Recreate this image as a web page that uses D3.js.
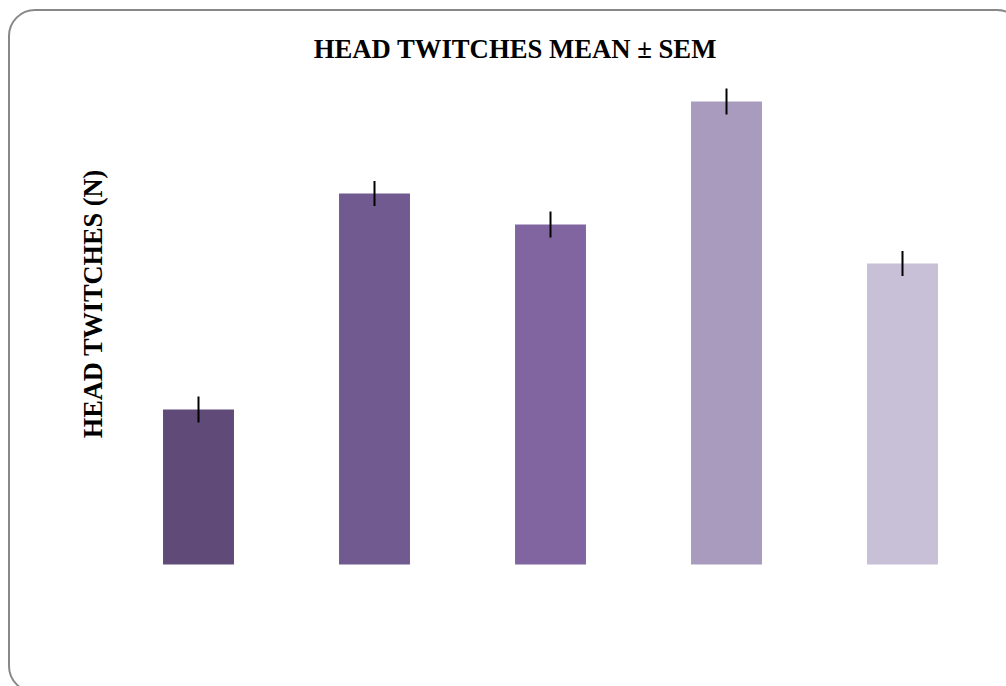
<!DOCTYPE html>
<html>
<head>
<meta charset="utf-8">
<script src="https://cdn.jsdelivr.net/npm/d3@7"></script>
<style>
  html, body { margin: 0; padding: 0; background: #fff; overflow: hidden; }
  svg { display: block; }
</style>
</head>
<body>
<svg id="chart" width="1006" height="686"></svg>
<script>
// Group labels (not drawn on the axis) and their mean / SEM values
const groups = ["G1", "G2", "G3", "G4", "G5"];
const means = [6.2, 14.84, 13.6, 18.52, 12.04];
const sems = [0.52, 0.5, 0.52, 0.52, 0.5];
const barColors = ["#5f4a78", "#705a8f", "#8065a1", "#a99bbd", "#c8c0d6"];

const svg = d3.select("#chart");

// Rounded frame around the whole chart
svg.append("rect")
  .attr("x", 9).attr("y", 10)
  .attr("width", 1014).attr("height", 682)
  .attr("rx", 26).attr("ry", 26)
  .attr("fill", "#fff")
  .attr("stroke", "#888")
  .attr("stroke-width", 2);

const x = d3.scaleBand()
  .domain(groups)
  .range([110.5, 990.5])
  .paddingInner(0.597)
  .paddingOuter(0.2985);

const y = d3.scaleLinear()
  .domain([0, 20])
  .range([564.5, 64.5]);

// Bars
svg.append("g").selectAll("rect")
  .data(groups)
  .join("rect")
  .attr("x", d => x(d))
  .attr("width", x.bandwidth())
  .attr("y", (d, i) => y(means[i]))
  .attr("height", (d, i) => y(0) - y(means[i]))
  .attr("fill", (d, i) => barColors[i]);

// Error bars (mean ± SEM)
svg.append("g").selectAll("line")
  .data(groups)
  .join("line")
  .attr("x1", d => x(d) + x.bandwidth() / 2)
  .attr("x2", d => x(d) + x.bandwidth() / 2)
  .attr("y1", (d, i) => y(means[i] + sems[i]))
  .attr("y2", (d, i) => y(means[i] - sems[i]))
  .attr("stroke", "#000")
  .attr("stroke-width", 2);

// Title
svg.append("text")
  .attr("x", 515).attr("y", 58)
  .attr("text-anchor", "middle")
  .attr("font-family", "'Liberation Serif', 'Times New Roman', serif")
  .attr("font-weight", "bold")
  .attr("font-size", 26.7)
  .text("HEAD TWITCHES MEAN ± SEM");

// Y-axis label
svg.append("text")
  .attr("transform", "translate(102,304) rotate(-90)")
  .attr("text-anchor", "middle")
  .attr("font-family", "'Liberation Serif', 'Times New Roman', serif")
  .attr("font-weight", "bold")
  .attr("font-size", 26.3)
  .text("HEAD TWITCHES (N)");
</script>
</body>
</html>
